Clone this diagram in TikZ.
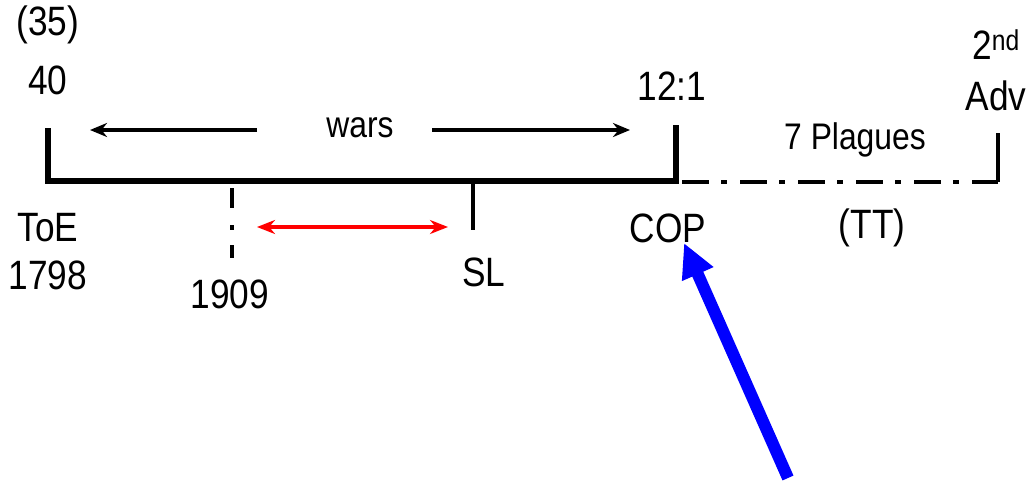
\documentclass[tikz,border=0pt]{standalone}
\usepackage{fontspec}
\setmainfont[FakeStretch=0.86]{Liberation Sans}
\usetikzlibrary{arrows.meta}
\begin{document}
\begin{tikzpicture}[x=1pt,y=-1pt,
  lbl/.style={inner sep=0pt,font=\fontsize{41}{44}\selectfont},
  lblsm/.style={inner sep=0pt,font=\fontsize{37}{40}\selectfont},
  axis/.style={line width=5.5pt,line cap=rect},
  blkarrow/.style={line width=3.5pt,-{Stealth[length=17pt,width=14pt]}},
  redarrow/.style={line width=3.5pt,red,{Stealth[length=18pt,width=14pt]}-{Stealth[length=18pt,width=14pt]}},
  bluearrow/.style={line width=12pt,blue,-{Triangle[length=34pt,width=32pt]}}]
\useasboundingbox (0,0) rectangle (1035,482);
% axis coordinates
\coordinate (Ltop) at (48,131);
\coordinate (Lbot) at (48,181);
\coordinate (Rbot) at (676,181);
\coordinate (Rtop) at (676,128);
\coordinate (SLtop) at (473,181);
\coordinate (SLbot) at (473,230);
\coordinate (Ntop) at (232,188);
\coordinate (Nbot) at (232,258);
\coordinate (Dstart) at (682,182);
\coordinate (Dend) at (998,182);
\coordinate (Etop) at (998,133);
% main timeline
\draw[axis] (Ltop) -- (Lbot) -- (Rbot) -- (Rtop);
\draw[line width=4pt] (SLtop) -- (SLbot);
\draw[line width=4.5pt,dash pattern=on 20pt off 17pt on 5pt off 15pt] (Ntop) -- (Nbot);
\draw[line width=4pt,dash pattern=on 27pt off 12pt on 6pt off 13pt] (Dstart) -- (Dend);
\draw[line width=4pt] (Dend) -- (Etop);
% labels
\node[lbl] (n35) at (48,25) {(35)};
\node[lbl] (n40) at (48,80) {40};
\node[lbl] (n121) at (672,86) {12:1};
\node[lbl] (n2nd) at (996,45) {2\textsuperscript{nd}};
\node[lbl] (nadv) at (996,96) {Adv};
\node[lblsm] (wars) at (360,128) {wars};
\node[lblsm] (plag) at (855,140) {7 Plagues};
\node[lbl] (toe) at (48,228) {ToE};
\node[lbl] (y1798) at (48,275) {1798};
\node[lbl] (y1909) at (230,294) {1909};
\node[lbl] (sl) at (484,272) {SL};
\node[lbl] (cop) at (668,228) {COP};
\node[lbl] (tt) at (872,228) {(TT)};
% arrows
\coordinate (wlA) at (257,130);
\coordinate (wlB) at (90,130);
\coordinate (wrA) at (432,130);
\coordinate (wrB) at (630,130);
\draw[blkarrow] (wlA) -- (wlB);
\draw[blkarrow] (wrA) -- (wrB);
\coordinate (rA) at (257,227);
\coordinate (rB) at (448,227);
\draw[redarrow] (rA) -- (rB);
\coordinate (bS) at (788,478);
\coordinate (bT) at (684,243);
\draw[bluearrow] (bS) -- (bT);
\end{tikzpicture}
\end{document}
